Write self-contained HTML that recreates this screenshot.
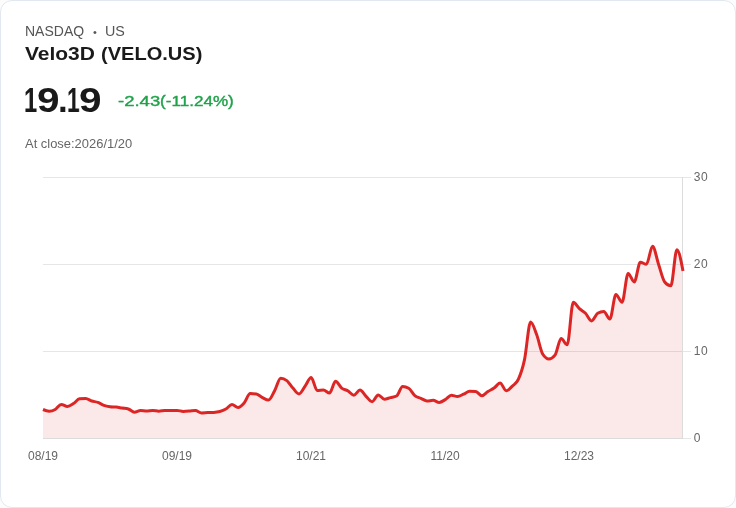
<!DOCTYPE html>
<html lang="en">
<head>
<meta charset="utf-8">
<title>Velo3D (VELO.US)</title>
<style>
  html,body{margin:0;padding:0;background:#fcfcfc;}
  body{width:736px;height:508px;overflow:hidden;font-family:"Liberation Sans",sans-serif;}
  .card{position:absolute;left:0;top:0;width:734px;height:506px;border:1px solid #e2e8f0;border-radius:12px;background:#fff;}
  .t{position:absolute;white-space:nowrap;line-height:1;transform-origin:0 0;will-change:transform;}
  .mkt{top:24.4px;font-size:14px;color:#555;}
  .bul{left:92.6px;top:26.8px;font-size:11px;color:#555;}
  .row{position:absolute;left:0;top:0;width:0;height:0;font-size:0;}
  .name{top:44.9px;font-size:18px;font-weight:700;color:#1a1a1a;}
  .price{top:82.2px;font-size:35px;font-weight:700;color:#1a1a1a;}
  .chg{top:92.6px;font-size:15.5px;color:#1fa24a;font-weight:400;-webkit-text-stroke:0.4px #1fa24a;}
  .close{top:138.2px;font-size:12px;color:#666;}
  svg{position:absolute;left:0;top:0;will-change:transform;}
  svg text{font-family:"Liberation Sans",sans-serif;font-size:12px;fill:#666;}
</style>
</head>
<body>
<div class="card"></div>
<div class="row"><span class="t mkt" style="left:24.53px;transform:scaleX(0.9977)">NASDAQ</span> <span class="t bul">•</span> <span class="t mkt" style="left:104.88px;transform:scaleX(1.0211)">US</span></div>
<div class="row"><span class="t name" style="left:25.33px;transform:scaleX(1.1648)">Velo3D</span> <span class="t name" style="left:100.79px;transform:scaleX(1.1135)">(VELO.US)</span></div>
<div class="row"><span class="t price" style="left:24.19px;transform:scaleX(0.68)">1</span><span class="t price" style="left:37.22px;transform:scaleX(1.1564)">9</span><span class="t price" style="left:58.4px;transform:scaleX(1.0)">.</span><span class="t price" style="left:66.96px;transform:scaleX(0.65)">1</span><span class="t price" style="left:79.02px;transform:scaleX(1.1564)">9</span></div>
<div class="row"><span class="t chg" style="left:117.72px;transform:scaleX(1.194)">-2.43</span><span class="t chg" style="left:160.34px;transform:scaleX(1.103)">(-11.24%)</span></div>
<div class="row"><span class="t close" style="left:25.04px;transform:scaleX(1.0783)">At close:2026/1/20</span></div>
<svg width="736" height="508" viewBox="0 0 736 508">
  <g stroke="#e6e6e6" stroke-width="1" fill="none">
    <line x1="43" y1="177.5" x2="683" y2="177.5"/>
    <line x1="43" y1="264.5" x2="683" y2="264.5"/>
    <line x1="43" y1="351.5" x2="683" y2="351.5"/>
  </g>
  <path d="M43.00,409.50C45.03,410.35,47.06,411.20,49.10,411.20C51.13,411.20,53.16,410.63,55.19,409.50C57.22,408.37,59.25,404.40,61.29,404.40C63.32,404.40,65.35,406.50,67.38,406.50C69.41,406.50,71.44,404.88,73.48,403.60C75.51,402.32,77.54,399.00,79.57,398.80C81.60,398.60,83.63,398.50,85.67,398.50C87.70,398.50,89.73,400.35,91.76,401.00C93.79,401.65,95.83,401.67,97.86,402.40C99.89,403.13,101.92,404.68,103.95,405.40C105.98,406.12,108.02,406.43,110.05,406.70C112.08,406.97,114.11,406.87,116.14,407.10C118.17,407.33,120.21,407.78,122.24,408.10C124.27,408.42,126.30,408.40,128.33,409.00C130.37,409.60,132.40,412.20,134.43,412.20C136.46,412.20,138.49,410.50,140.52,410.50C142.56,410.50,144.59,411.10,146.62,411.10C148.65,411.10,150.68,410.50,152.71,410.50C154.75,410.50,156.78,411.20,158.81,411.20C160.84,411.20,162.87,410.57,164.90,410.50C166.94,410.43,168.97,410.40,171.00,410.40C173.03,410.40,175.06,410.40,177.10,410.40C179.13,410.40,181.16,411.40,183.19,411.40C185.22,411.40,187.25,411.25,189.29,411.10C191.32,410.95,193.35,410.50,195.38,410.50C197.41,410.50,199.44,412.90,201.48,412.90C203.51,412.90,205.54,412.68,207.57,412.60C209.60,412.52,211.63,412.53,213.67,412.40C215.70,412.27,217.73,412.07,219.76,411.50C221.79,410.93,223.83,410.17,225.86,409.00C227.89,407.83,229.92,404.50,231.95,404.50C233.98,404.50,236.02,407.50,238.05,407.50C240.08,407.50,242.11,405.32,244.14,403.00C246.17,400.68,248.21,393.60,250.24,393.60C252.27,393.60,254.30,393.73,256.33,394.00C258.37,394.27,260.40,396.58,262.43,397.60C264.46,398.62,266.49,400.10,268.52,400.10C270.56,400.10,272.59,394.43,274.62,390.80C276.65,387.17,278.68,378.30,280.71,378.30C282.75,378.30,284.78,379.07,286.81,380.60C288.84,382.13,290.87,385.88,292.90,388.10C294.94,390.32,296.97,393.90,299.00,393.90C301.03,393.90,303.06,388.82,305.10,386.10C307.13,383.38,309.16,377.60,311.19,377.60C313.22,377.60,315.25,390.60,317.29,390.60C319.32,390.60,321.35,389.90,323.38,389.90C325.41,389.90,327.44,393.00,329.48,393.00C331.51,393.00,333.54,381.30,335.57,381.30C337.60,381.30,339.63,386.52,341.67,388.10C343.70,389.68,345.73,389.62,347.76,390.80C349.79,391.98,351.83,395.20,353.86,395.20C355.89,395.20,357.92,390.10,359.95,390.10C361.98,390.10,364.02,394.37,366.05,396.30C368.08,398.23,370.11,401.70,372.14,401.70C374.17,401.70,376.21,394.90,378.24,394.90C380.27,394.90,382.30,399.20,384.33,399.20C386.37,399.20,388.40,398.13,390.43,397.60C392.46,397.07,394.49,397.07,396.52,396.00C398.56,394.93,400.59,386.50,402.62,386.50C404.65,386.50,406.68,387.07,408.71,388.20C410.75,389.33,412.78,393.92,414.81,395.60C416.84,397.28,418.87,397.40,420.90,398.30C422.94,399.20,424.97,401.00,427.00,401.00C429.03,401.00,431.06,400.30,433.10,400.30C435.13,400.30,437.16,402.40,439.19,402.40C441.22,402.40,443.25,400.80,445.29,399.60C447.32,398.40,449.35,395.20,451.38,395.20C453.41,395.20,455.44,396.50,457.48,396.50C459.51,396.50,461.54,395.08,463.57,394.20C465.60,393.32,467.63,391.20,469.67,391.20C471.70,391.20,473.73,391.30,475.76,391.50C477.79,391.70,479.83,395.80,481.86,395.80C483.89,395.80,485.92,392.78,487.95,391.50C489.98,390.22,492.02,389.50,494.05,388.10C496.08,386.70,498.11,383.10,500.14,383.10C502.17,383.10,504.21,390.70,506.24,390.70C508.27,390.70,510.30,388.13,512.33,386.20C514.37,384.27,516.40,383.53,518.43,379.10C520.46,374.67,522.49,369.10,524.52,359.60C526.56,350.10,528.59,322.10,530.62,322.10C532.65,322.10,534.68,329.43,536.71,334.80C538.75,340.17,540.78,351.10,542.81,354.30C544.84,357.50,546.87,359.10,548.90,359.10C550.94,359.10,552.97,357.80,555.00,355.20C557.03,352.60,559.06,338.60,561.10,338.60C563.13,338.60,565.16,344.80,567.19,344.80C569.22,344.80,571.25,302.30,573.29,302.30C575.32,302.30,577.35,306.77,579.38,308.60C581.41,310.43,583.44,311.25,585.48,313.30C587.51,315.35,589.54,320.90,591.57,320.90C593.60,320.90,595.63,314.50,597.67,313.30C599.70,312.10,601.73,311.50,603.76,311.50C605.79,311.50,607.83,319.10,609.86,319.10C611.89,319.10,613.92,294.40,615.95,294.40C617.98,294.40,620.02,302.30,622.05,302.30C624.08,302.30,626.11,273.40,628.14,273.40C630.17,273.40,632.21,282.00,634.24,282.00C636.27,282.00,638.30,262.20,640.33,262.20C642.37,262.20,644.40,264.30,646.43,264.30C648.46,264.30,650.49,246.20,652.52,246.20C654.56,246.20,656.59,258.53,658.62,264.50C660.65,270.47,662.68,279.47,664.71,282.00C666.75,284.53,668.78,285.80,670.81,285.80C672.84,285.80,674.87,249.80,676.90,249.80C678.94,249.80,680.97,260.40,683.00,271.00L683.00,438L43.00,438Z" fill="#dc2626" fill-opacity="0.1" stroke="none"/>
  <g stroke="#dcdcdc" stroke-width="1" fill="none">
    <line x1="43" y1="438.5" x2="683" y2="438.5"/>
    <line x1="682.5" y1="177" x2="682.5" y2="439"/>
  </g>
  <g stroke="#e6e6e6" stroke-width="1" fill="none">
    <line x1="683" y1="177.5" x2="691" y2="177.5"/>
    <line x1="683" y1="264.5" x2="691" y2="264.5"/>
    <line x1="683" y1="351.5" x2="691" y2="351.5"/>
    <line x1="683" y1="438.5" x2="691" y2="438.5"/>
  </g>
  <path d="M43.00,409.50C45.03,410.35,47.06,411.20,49.10,411.20C51.13,411.20,53.16,410.63,55.19,409.50C57.22,408.37,59.25,404.40,61.29,404.40C63.32,404.40,65.35,406.50,67.38,406.50C69.41,406.50,71.44,404.88,73.48,403.60C75.51,402.32,77.54,399.00,79.57,398.80C81.60,398.60,83.63,398.50,85.67,398.50C87.70,398.50,89.73,400.35,91.76,401.00C93.79,401.65,95.83,401.67,97.86,402.40C99.89,403.13,101.92,404.68,103.95,405.40C105.98,406.12,108.02,406.43,110.05,406.70C112.08,406.97,114.11,406.87,116.14,407.10C118.17,407.33,120.21,407.78,122.24,408.10C124.27,408.42,126.30,408.40,128.33,409.00C130.37,409.60,132.40,412.20,134.43,412.20C136.46,412.20,138.49,410.50,140.52,410.50C142.56,410.50,144.59,411.10,146.62,411.10C148.65,411.10,150.68,410.50,152.71,410.50C154.75,410.50,156.78,411.20,158.81,411.20C160.84,411.20,162.87,410.57,164.90,410.50C166.94,410.43,168.97,410.40,171.00,410.40C173.03,410.40,175.06,410.40,177.10,410.40C179.13,410.40,181.16,411.40,183.19,411.40C185.22,411.40,187.25,411.25,189.29,411.10C191.32,410.95,193.35,410.50,195.38,410.50C197.41,410.50,199.44,412.90,201.48,412.90C203.51,412.90,205.54,412.68,207.57,412.60C209.60,412.52,211.63,412.53,213.67,412.40C215.70,412.27,217.73,412.07,219.76,411.50C221.79,410.93,223.83,410.17,225.86,409.00C227.89,407.83,229.92,404.50,231.95,404.50C233.98,404.50,236.02,407.50,238.05,407.50C240.08,407.50,242.11,405.32,244.14,403.00C246.17,400.68,248.21,393.60,250.24,393.60C252.27,393.60,254.30,393.73,256.33,394.00C258.37,394.27,260.40,396.58,262.43,397.60C264.46,398.62,266.49,400.10,268.52,400.10C270.56,400.10,272.59,394.43,274.62,390.80C276.65,387.17,278.68,378.30,280.71,378.30C282.75,378.30,284.78,379.07,286.81,380.60C288.84,382.13,290.87,385.88,292.90,388.10C294.94,390.32,296.97,393.90,299.00,393.90C301.03,393.90,303.06,388.82,305.10,386.10C307.13,383.38,309.16,377.60,311.19,377.60C313.22,377.60,315.25,390.60,317.29,390.60C319.32,390.60,321.35,389.90,323.38,389.90C325.41,389.90,327.44,393.00,329.48,393.00C331.51,393.00,333.54,381.30,335.57,381.30C337.60,381.30,339.63,386.52,341.67,388.10C343.70,389.68,345.73,389.62,347.76,390.80C349.79,391.98,351.83,395.20,353.86,395.20C355.89,395.20,357.92,390.10,359.95,390.10C361.98,390.10,364.02,394.37,366.05,396.30C368.08,398.23,370.11,401.70,372.14,401.70C374.17,401.70,376.21,394.90,378.24,394.90C380.27,394.90,382.30,399.20,384.33,399.20C386.37,399.20,388.40,398.13,390.43,397.60C392.46,397.07,394.49,397.07,396.52,396.00C398.56,394.93,400.59,386.50,402.62,386.50C404.65,386.50,406.68,387.07,408.71,388.20C410.75,389.33,412.78,393.92,414.81,395.60C416.84,397.28,418.87,397.40,420.90,398.30C422.94,399.20,424.97,401.00,427.00,401.00C429.03,401.00,431.06,400.30,433.10,400.30C435.13,400.30,437.16,402.40,439.19,402.40C441.22,402.40,443.25,400.80,445.29,399.60C447.32,398.40,449.35,395.20,451.38,395.20C453.41,395.20,455.44,396.50,457.48,396.50C459.51,396.50,461.54,395.08,463.57,394.20C465.60,393.32,467.63,391.20,469.67,391.20C471.70,391.20,473.73,391.30,475.76,391.50C477.79,391.70,479.83,395.80,481.86,395.80C483.89,395.80,485.92,392.78,487.95,391.50C489.98,390.22,492.02,389.50,494.05,388.10C496.08,386.70,498.11,383.10,500.14,383.10C502.17,383.10,504.21,390.70,506.24,390.70C508.27,390.70,510.30,388.13,512.33,386.20C514.37,384.27,516.40,383.53,518.43,379.10C520.46,374.67,522.49,369.10,524.52,359.60C526.56,350.10,528.59,322.10,530.62,322.10C532.65,322.10,534.68,329.43,536.71,334.80C538.75,340.17,540.78,351.10,542.81,354.30C544.84,357.50,546.87,359.10,548.90,359.10C550.94,359.10,552.97,357.80,555.00,355.20C557.03,352.60,559.06,338.60,561.10,338.60C563.13,338.60,565.16,344.80,567.19,344.80C569.22,344.80,571.25,302.30,573.29,302.30C575.32,302.30,577.35,306.77,579.38,308.60C581.41,310.43,583.44,311.25,585.48,313.30C587.51,315.35,589.54,320.90,591.57,320.90C593.60,320.90,595.63,314.50,597.67,313.30C599.70,312.10,601.73,311.50,603.76,311.50C605.79,311.50,607.83,319.10,609.86,319.10C611.89,319.10,613.92,294.40,615.95,294.40C617.98,294.40,620.02,302.30,622.05,302.30C624.08,302.30,626.11,273.40,628.14,273.40C630.17,273.40,632.21,282.00,634.24,282.00C636.27,282.00,638.30,262.20,640.33,262.20C642.37,262.20,644.40,264.30,646.43,264.30C648.46,264.30,650.49,246.20,652.52,246.20C654.56,246.20,656.59,258.53,658.62,264.50C660.65,270.47,662.68,279.47,664.71,282.00C666.75,284.53,668.78,285.80,670.81,285.80C672.84,285.80,674.87,249.80,676.90,249.80C678.94,249.80,680.97,260.40,683.00,271.00" fill="none" stroke="#dc2626" stroke-width="3" stroke-linejoin="round" stroke-linecap="butt"/>
  <g text-anchor="middle">
    <text x="43" y="460">08/19</text>
    <text x="177" y="460">09/19</text>
    <text x="311" y="460">10/21</text>
    <text x="445" y="460">11/20</text>
    <text x="579" y="460">12/23</text>
  </g>
  <g text-anchor="start" letter-spacing="0.6">
    <text x="693.7" y="181">30</text>
    <text x="693.7" y="268">20</text>
    <text x="693.7" y="355">10</text>
    <text x="693.7" y="442">0</text>
  </g>
</svg>
</body>
</html>
